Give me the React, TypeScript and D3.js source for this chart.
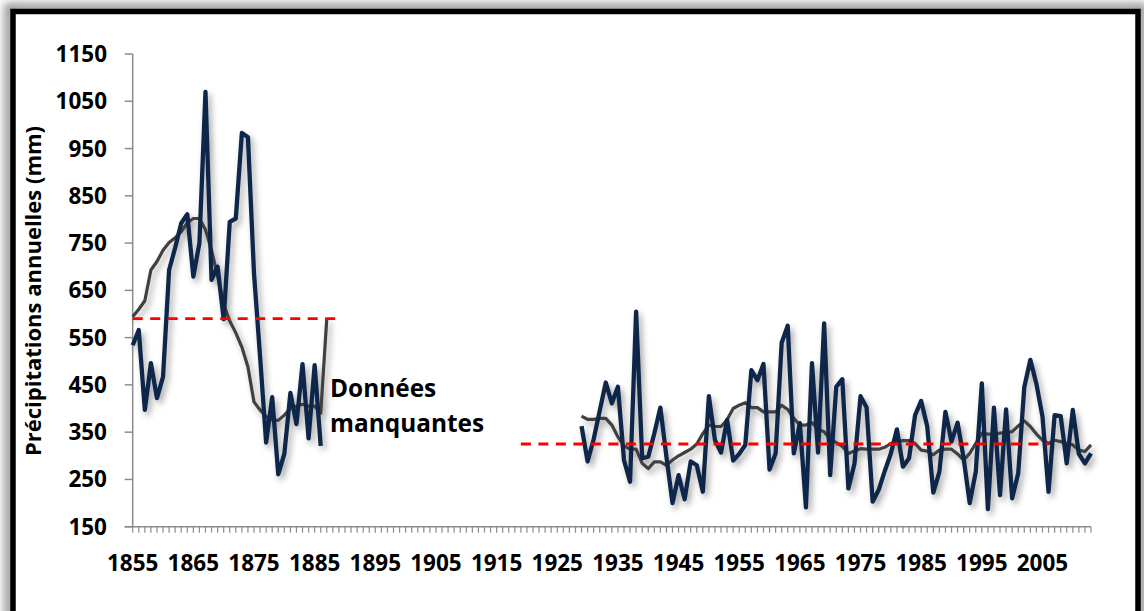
import React from "react";
import * as d3 from "d3";

// ---- data ----
const leftStartYear = 1855;
const precipLeft = [
  534, 566, 397, 496, 422, 467, 693, 740, 792, 811, 679, 750, 1070, 672, 700, 589,
  795, 802, 983, 974, 686, 510, 328, 424, 261, 304, 433, 367, 494, 337, 492, 321,
];
const movingAvgLeft = [
  594, 610, 628, 693, 711, 735, 751, 761, 774, 793, 802, 802, 778, 735, 680, 620,
  585, 560, 530, 488, 414, 397, 383, 376, 375, 386, 400, 405, 409, 405, 405, 390, 590,
];

const rightStartYear = 1929;
const precipRight = [
  363, 288, 335, 395, 455, 411, 446, 291, 245, 605, 295, 298, 347, 402, 298, 200,
  259, 208, 288, 280, 224, 426, 333, 307, 376, 290, 304, 323, 481, 460, 494, 271,
  305, 539, 575, 305, 369, 191, 496, 307, 580, 259, 446, 462, 231, 283, 426, 402,
  203, 228, 268, 305, 356, 277, 295, 386, 416, 362, 222, 266, 393, 330, 370, 295,
  200, 266, 453, 187, 402, 217, 398, 210, 263, 445, 503, 452, 383, 224, 386, 384,
  284, 397, 304, 284, 305,
];
const movingAvgRight = [
  384, 377, 377, 379, 379, 365, 340, 321, 314, 314, 284, 273, 287, 287, 280, 291,
  300, 307, 314, 325, 347, 365, 362, 362, 376, 400, 407, 412, 402, 402, 393, 393,
  393, 407, 398, 379, 365, 365, 370, 356, 351, 335, 328, 320, 305, 310, 315, 314,
  314, 314, 318, 326, 330, 332, 332, 326, 312, 310, 302, 312, 314, 314, 304, 291,
  305, 326, 348, 346, 346, 348, 349, 351, 363, 374, 362, 346, 333, 326, 333, 330,
  326, 323, 312, 309, 323,
];

// mean lines: [startYear, endYear, value]
const meanLeft = [1855, 1889.6, 590];
const meanRight = [1919, 2006, 325];

const yTicks = [150, 250, 350, 450, 550, 650, 750, 850, 950, 1050, 1150];
const xLabelYears = [1855, 1865, 1875, 1885, 1895, 1905, 1915, 1925, 1935, 1945, 1955, 1965, 1975, 1985, 1995, 2005];
const firstYear = 1855;
const lastYear = 2013;

const yAxisTitle = "Précipitations annuelles (mm)";
const noteLines = ["Données", "manquantes"];

export default function App() {
  const x = d3.scaleLinear().domain([firstYear, lastYear]).range([132.7, 1091]);
  const y = d3.scaleLinear().domain([150, 1150]).range([526.7, 54]);

  const mkLine = (start: number) =>
    d3
      .line<number>()
      .x((_, i) => x(start + i))
      .y((d) => y(d));

  const lineL = mkLine(leftStartYear);
  const lineR = mkLine(rightStartYear);

  const font = "'Open Sans', sans-serif";
  const axisColor = "#8c8c8c";
  const blue = "#0f2748";
  const gray = "#404040";

  const years = d3.range(firstYear, lastYear + 1);

  return (
    <svg
      width={1144}
      height={611}
      style={{ position: "absolute", left: 0, top: 0, background: "#ffffff" }}
    >
      <defs>
        <filter id="frameShadow" x="-5%" y="-5%" width="110%" height="110%">
          <feGaussianBlur stdDeviation="4" />
        </filter>
        <filter id="lineShadow" x="-5%" y="-10%" width="110%" height="125%">
          <feDropShadow dx="3" dy="4" stdDeviation="3" floodColor="#000" floodOpacity="0.35" />
        </filter>
      </defs>

      {/* outer frame with shadow */}
      <rect x={9} y={8} width={1133} height={630} fill="none" stroke="#9a9a9a" strokeWidth={10} filter="url(#frameShadow)" />
      <rect x={13} y={11.5} width={1125} height={630} fill="#ffffff" stroke="#000" strokeWidth={5.5} />

      {/* axes */}
      <line x1={x(firstYear)} x2={x(firstYear)} y1={y(1150)} y2={y(150)} stroke={axisColor} strokeWidth={1.5} />
      <line x1={x(firstYear) - 8} x2={x(lastYear)} y1={y(150)} y2={y(150)} stroke={axisColor} strokeWidth={1.5} />
      {yTicks.map((t) => (
        <g key={t}>
          <line x1={x(firstYear) - 8} x2={x(firstYear)} y1={y(t)} y2={y(t)} stroke={axisColor} strokeWidth={1.5} />
          <text
            x={107}
            y={y(t) + 8}
            textAnchor="end"
            fontFamily={font}
            fontWeight={700}
            fontSize={22.5}
            fill="#000"
          >
            {t}
          </text>
        </g>
      ))}
      {years.map((yr) => (
        <line key={yr} x1={x(yr)} x2={x(yr)} y1={y(150)} y2={y(150) + 6} stroke={axisColor} strokeWidth={1.2} />
      ))}
      {xLabelYears.map((yr) => (
        <text
          key={yr}
          x={x(yr)}
          y={571}
          textAnchor="middle"
          fontFamily={font}
          fontWeight={700}
          fontSize={22.5}
          fill="#000"
        >
          {yr}
        </text>
      ))}

      <text
        transform={`translate(41, 291) rotate(-90)`}
        textAnchor="middle"
        fontFamily={font}
        fontWeight={700}
        fontSize={22}
        fill="#000"
      >
        {yAxisTitle}
      </text>

      {/* series */}
      <g filter="url(#lineShadow)">
        <path d={lineL(movingAvgLeft) || ""} fill="none" stroke={gray} strokeWidth={3.2} strokeLinejoin="round" />
        <path d={lineR(movingAvgRight) || ""} fill="none" stroke={gray} strokeWidth={3.2} strokeLinejoin="round" />
        <path d={lineL(precipLeft) || ""} fill="none" stroke={blue} strokeWidth={4.3} strokeLinejoin="round" />
        <path d={lineR(precipRight) || ""} fill="none" stroke={blue} strokeWidth={4.3} strokeLinejoin="round" />
      </g>

      {/* mean lines */}
      {[meanLeft, meanRight].map((m, i) => (
        <line
          key={i}
          x1={x(m[0])}
          x2={x(m[1])}
          y1={y(m[2])}
          y2={y(m[2])}
          stroke="#ff0000"
          strokeWidth={2.8}
          strokeDasharray="10 7.5"
        />
      ))}

      {/* annotation */}
      {noteLines.map((t, i) => (
        <text
          key={t}
          x={330}
          y={397 + i * 35}
          fontFamily={font}
          fontWeight={700}
          fontSize={24.4}
          fill="#000"
        >
          {t}
        </text>
      ))}
    </svg>
  );
}
